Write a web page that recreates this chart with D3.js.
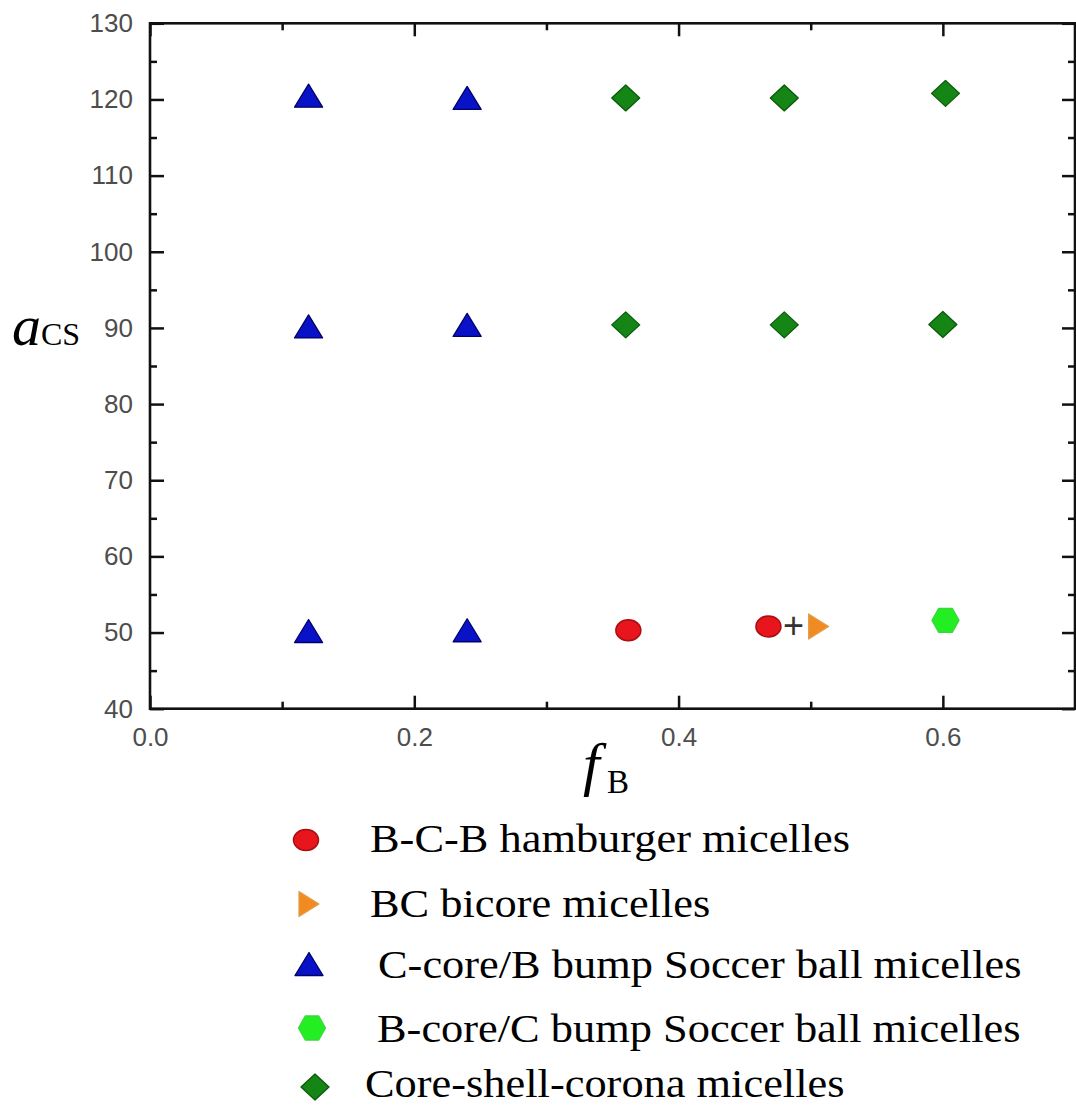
<!DOCTYPE html>
<html>
<head>
<meta charset="utf-8">
<script src="https://cdn.jsdelivr.net/npm/d3@7"></script>
<style>
  html, body { margin: 0; padding: 0; background: #ffffff; }
  svg { display: block; }
</style>
</head>
<body>
<svg id="chart" width="1076" height="1106"></svg>
<script>
// Phase points: f_B (x) and a_CS (y) for each micelle morphology
const hamburgerF = [0.362, 0.468];
const hamburgerA = [50.3, 50.8];

const bicoreF = [0.506];
const bicoreA = [50.8];

const cCoreF = [0.12, 0.24, 0.12, 0.24, 0.12, 0.24];
const cCoreA = [120.5, 120.2, 90.2, 90.4, 50.2, 50.3];

const bCoreF = [0.602];
const bCoreA = [51.6];

const cscF = [0.36, 0.48, 0.602, 0.36, 0.48, 0.60];
const cscA = [120.2, 120.2, 120.8, 90.4, 90.4, 90.45];

const xMajorTicks = [0.0, 0.2, 0.4, 0.6];
const xMinorTicks = [0.1, 0.3, 0.5];
const yMajorTicks = [40, 50, 60, 70, 80, 90, 100, 110, 120, 130];
const yMinorTicks = [45, 55, 65, 75, 85, 95, 105, 115, 125];

const legendLabels = [
  "B-C-B hamburger micelles",
  "BC bicore micelles",
  "C-core/B bump Soccer ball micelles",
  "B-core/C bump Soccer ball micelles",
  "Core-shell-corona micelles"
];

// ---- drawing ----
const svg = d3.select("#chart");

const x = d3.scaleLinear().domain([0, 0.7]).range([150, 1075]);
const y = d3.scaleLinear().domain([40, 130]).range([708.7, 23.3]);

// marker outlines, centred at the origin, sized by width/height
const shapes = {
  triUp: (w, h) => `M0,${-h / 2}L${w / 2},${h / 2}L${-w / 2},${h / 2}Z`,
  triRight: (w, h) => `M${-w / 2},${-h / 2}L${w / 2},0L${-w / 2},${h / 2}Z`,
  diamond: (w, h) => `M0,${-h / 2}L${w / 2},0L0,${h / 2}L${-w / 2},0Z`,
  hexagon: (w, h) => `M${-w / 2},0L${-w / 4},${-h / 2}L${w / 4},${-h / 2}L${w / 2},0L${w / 4},${h / 2}L${-w / 4},${h / 2}Z`
};

const styles = [
  { kind: "ellipse", w: 25, h: 21, fill: "#e8161c", stroke: "#a80e12" },
  { kind: "triRight", w: 20, h: 25, fill: "#f28a22", stroke: "#e0a050" },
  { kind: "triUp", w: 28, h: 23, fill: "#0a12c8", stroke: "#00006a" },
  { kind: "hexagon", w: 27, h: 24, fill: "#22ee22", stroke: "#3ad83a" },
  { kind: "diamond", w: 28, h: 26, fill: "#158515", stroke: "#0b5a0b" }
];

const seriesList = [
  { f: hamburgerF, a: hamburgerA },
  { f: bicoreF, a: bicoreA },
  { f: cCoreF, a: cCoreA },
  { f: bCoreF, a: bCoreA },
  { f: cscF, a: cscA }
];

function drawMarker(g, st) {
  if (st.kind === "ellipse") {
    g.append("ellipse").attr("cx", 0).attr("cy", 0)
      .attr("rx", st.w / 2).attr("ry", st.h / 2)
      .attr("fill", st.fill).attr("stroke", st.stroke).attr("stroke-width", 1.5);
  } else {
    g.append("path").attr("d", shapes[st.kind](st.w, st.h))
      .attr("fill", st.fill).attr("stroke", st.stroke).attr("stroke-width", 1.3)
      .attr("stroke-linejoin", "round");
  }
}

// axes: inward ticks on all four sides
const tickFont = "Arial, 'Liberation Sans', sans-serif";
const axisColor = "#111";

function styleAxis(g) {
  g.select(".domain").remove();
  g.selectAll(".tick line").attr("stroke", axisColor).attr("stroke-width", 2.5);
  g.selectAll(".tick text")
    .attr("fill", "#4d4d4d")
    .attr("font-family", tickFont)
    .attr("font-size", 26);
}

// bottom
svg.append("g").attr("transform", `translate(0,${y(40)})`)
  .call(d3.axisBottom(x).tickValues(xMajorTicks).tickFormat(d3.format(".1f"))
    .tickSize(-13).tickPadding(19))
  .call(styleAxis);
svg.append("g").attr("transform", `translate(0,${y(40)})`)
  .call(d3.axisBottom(x).tickValues(xMinorTicks).tickFormat("").tickSize(-7))
  .call(styleAxis);
// top
svg.append("g").attr("transform", `translate(0,${y(130)})`)
  .call(d3.axisTop(x).tickValues(xMajorTicks).tickFormat("").tickSize(-13))
  .call(styleAxis);
svg.append("g").attr("transform", `translate(0,${y(130)})`)
  .call(d3.axisTop(x).tickValues(xMinorTicks).tickFormat("").tickSize(-7))
  .call(styleAxis);
// left
svg.append("g").attr("transform", `translate(${x(0)},0)`)
  .call(d3.axisLeft(y).tickValues(yMajorTicks).tickFormat(d3.format("d"))
    .tickSize(-14).tickPadding(17))
  .call(styleAxis);
svg.append("g").attr("transform", `translate(${x(0)},0)`)
  .call(d3.axisLeft(y).tickValues(yMinorTicks).tickFormat("").tickSize(-7))
  .call(styleAxis);
// right
svg.append("g").attr("transform", `translate(${x(0.7)},0)`)
  .call(d3.axisRight(y).tickValues(yMajorTicks).tickFormat("").tickSize(-13))
  .call(styleAxis);
svg.append("g").attr("transform", `translate(${x(0.7)},0)`)
  .call(d3.axisRight(y).tickValues(yMinorTicks).tickFormat("").tickSize(-7))
  .call(styleAxis);

// frame
svg.append("rect")
  .attr("x", x(0)).attr("y", y(130))
  .attr("width", x(0.7) - x(0)).attr("height", y(40) - y(130))
  .attr("fill", "none").attr("stroke", axisColor).attr("stroke-width", 2.6);

// data markers
seriesList.forEach((s, i) => {
  const st = styles[i];
  s.f.forEach((fv, j) => {
    const g = svg.append("g").attr("transform", `translate(${x(fv)},${y(s.a[j])})`);
    drawMarker(g, st);
  });
});

// "+" between the coexisting hamburger and bicore points
const plusF = (hamburgerF[1] + bicoreF[0]) / 2;
const plusA = (hamburgerA[1] + bicoreA[0]) / 2;
svg.append("text")
  .attr("x", x(plusF)).attr("y", y(plusA) + 12)
  .attr("text-anchor", "middle")
  .attr("font-family", tickFont).attr("font-size", 36)
  .attr("fill", "#333")
  .text("+");

// axis titles
const serif = "'Times New Roman', 'Liberation Serif', serif";
const yTitle = svg.append("text")
  .attr("x", 12).attr("y", 345)
  .attr("font-family", serif).attr("fill", "#000");
yTitle.append("tspan").attr("font-style", "italic").attr("font-size", 58).text("a");
yTitle.append("tspan").attr("font-size", 32).text("CS");

const xTitle = svg.append("text")
  .attr("x", 583).attr("y", 784)
  .attr("font-family", serif).attr("fill", "#000");
xTitle.append("tspan").attr("font-style", "italic").attr("font-size", 60).text("f");
xTitle.append("tspan").attr("x", 607).attr("y", 793).attr("font-size", 33).text("B");

// legend
const legendMarkerX = [306, 309, 309, 312, 315];
const legendRowY = [840, 904, 964, 1028, 1087];
const legendTextX = [370, 370, 378, 377, 365];
const legendBaseline = [852, 917, 978, 1042, 1097];

legendLabels.forEach((label, i) => {
  const g = svg.append("g").attr("transform", `translate(${legendMarkerX[i]},${legendRowY[i]})`);
  drawMarker(g, styles[i]);
  svg.append("text")
    .attr("transform", `translate(${legendTextX[i]},${legendBaseline[i]}) scale(1.11,1)`)
    .attr("font-family", serif).attr("font-size", 40).attr("fill", "#000")
    .text(label);
});
</script>
</body>
</html>
